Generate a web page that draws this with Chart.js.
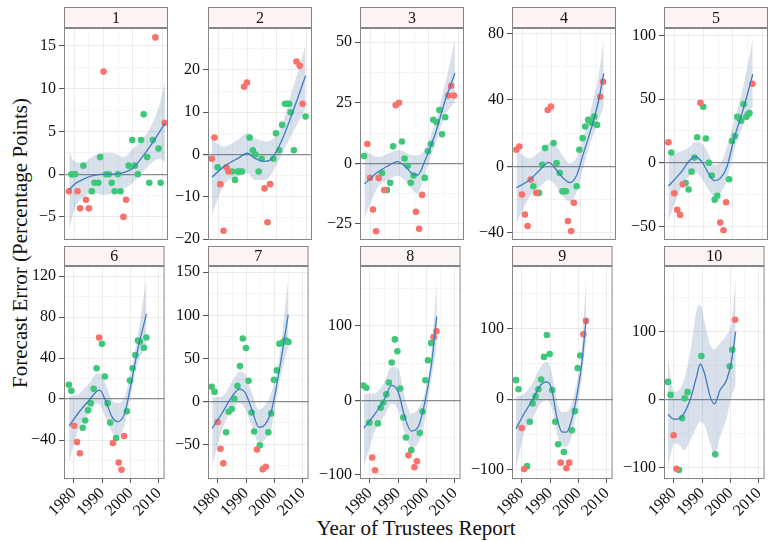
<!DOCTYPE html>
<html>
<head>
<meta charset="utf-8">
<script src="https://cdn.jsdelivr.net/npm/chart.js@4.4.1/dist/chart.umd.min.js"></script>
<style>
  body { margin: 0; background: #fff; width: 778px; height: 542px; position: relative; overflow: hidden; font-family: "Liberation Serif", serif; }
  canvas { position: absolute; }
  .ttl { position: absolute; font-size: 21px; color: #111; white-space: nowrap; }
  #ytitle { left: 20px; top: 243px; transform: translate(-50%, -50%) rotate(-90deg); }
  #xtitle { left: 416px; top: 516px; transform: translateX(-50%); }
</style>
</head>
<body>
<div class="ttl" id="ytitle">Forecast Error (Percentage Points)</div>
<div class="ttl" id="xtitle">Year of Trustees Report</div>
<script>
// forecast horizon (years ahead) shown in each strip
const stripLabels = ['1', '2', '3', '4', '5', '6', '7', '8', '9', '10'];

const xMin = 1976.5, xMax = 2012;
const xTicks = [1980, 1990, 2000, 2010];
const xMinor = [1985, 1995, 2005];

// y limits + breaks per panel (free scales)
const yLimits = [[-7.7, 17.1], [-20.2, 29.9], [-31.6, 55.8], [-44.4, 83.4], [-60.7, 105.8],
                 [-78, 129.8], [-90.2, 157.3], [-105.8, 180.7], [-113.2, 188.9], [-116.1, 195.6]];
const yTicks1 = [-5, 0, 5, 10, 15];
const yTicks2 = [-20, -10, 0, 10, 20];
const yTicks3 = [-25, 0, 25, 50];
const yTicks4 = [-40, 0, 40, 80];
const yTicks5 = [-50, 0, 50, 100];
const yTicks6 = [-40, 0, 40, 80, 120];
const yTicks7 = [-50, 0, 50, 100, 150];
const yTicks8 = [-100, 0, 100];
const yTicks9 = [-100, 0, 100];
const yTicks10 = [-100, 0, 100];

// points: report year, error, red flag (1 = red, 0 = green)
const p1Year = [1978.2,1979,1979.7,1980.3,1981.1,1982,1983.1,1984,1985,1986,1986.9,1988.2,1988.8,1990,1990.9,1991.8,1992.8,1993.8,1994.9,1995.8,1996.8,1997.7,1998.6,1999.8,2000.7,2001.7,2002.8,2003.7,2004.9,2005.6,2006.8,2007.7,2008.8,2009.5,2010.9];
const p1Err = [-2,0,0,0,-2,-4,1,-3,-4,-2,-1,-1,2,12,0,0,-1,-2,0,-2,-5,-3,1,4,1,0,4,7,2,-1,4,16,3,-1,6];
const p1Red = [1,0,0,0,1,1,0,1,1,0,0,0,0,1,0,0,0,0,0,0,1,1,0,0,0,0,0,0,0,0,0,1,0,0,1];

const p2Year = [1977.8,1978.7,1979.8,1980.7,1981.8,1982.8,1983.5,1984.7,1985.7,1986.7,1987.4,1988.1,1988.8,1989.8,1990.7,1991.8,1992.7,1993.8,1994.8,1995.8,1996.8,1997.7,1998.8,1999.7,2000.8,2001.8,2002.8,2003.5,2004.2,2004.7,2005.8,2006.7,2007.8,2008.8,2009.8];
const p2Err = [-1,4,-3,-7,-18,-3,-4,-4,-6,-4,-4,-4,16,17,4,1,0,-4,-1,-8,-16,-7,-1,5,1,7,12,12,12,10,1,22,21,12,9];
const p2Red = [1,1,0,1,1,1,1,0,0,0,0,0,1,1,0,0,0,0,0,1,1,1,0,0,0,0,0,0,0,0,0,1,1,1,0];

const p3Year = [1977.9,1979,1979.9,1980.9,1982,1982.9,1984,1984.8,1985.7,1986.8,1987.8,1988.7,1989.8,1990.8,1991.7,1992.8,1993.8,1994.8,1995.6,1996.7,1997.7,1998.6,1999.7,2000.7,2001.5,2002.6,2003.6,2004.5,2005.6,2006.6,2007.6,2008.6];
const p3Err = [3,8,-6,-19,-28,-6,-4,-11,-11,-8,7,24,25,9,2,-1,-8,-5,-20,-27,-13,-6,5,8,18,17,22,12,19,28,32,28];
const p3Red = [0,1,1,1,1,1,0,1,0,0,0,1,1,0,0,0,0,0,1,1,1,0,0,0,0,0,0,0,0,1,1,1];

const p4Year = [1978,1979,1979.9,1980.9,1981.8,1982.9,1983.8,1984.8,1985.7,1986.8,1987.8,1988.7,1989.8,1990.7,1991.7,1992.8,1993.7,1994.4,1994.9,1995.6,1996.7,1997.6,1998.6,1999.5,2000.6,2001.5,2002.5,2003.2,2003.9,2004.6,2005.5,2006.6,2007.6];
const p4Err = [10,12,-17,-29,-36,-8,-12,-16,-16,1,11,34,36,14,2,-4,-15,-15,-15,-33,-39,-22,-12,10,17,24,28,27,26,30,25,42,51];
const p4Red = [1,1,1,1,1,1,0,1,0,0,0,1,1,0,0,0,0,0,0,1,1,1,0,0,0,0,0,0,0,0,0,1,1];

const p5Year = [1978,1979,1980,1981,1982,1982.9,1983.9,1984.9,1985.9,1986.9,1987.8,1988.9,1989.9,1990.8,1991.8,1992.8,1993.8,1994.7,1995.7,1996.8,1997.7,1998.7,1999.7,2000.7,2001.5,2002.2,2002.8,2003.7,2004.6,2005.2,2005.7,2006.7];
const p5Err = [16,8,-24,-37,-41,-17,-16,-21,-7,4,20,47,44,19,0,-10,-29,-26,-47,-53,-31,-13,17,21,36,35,33,46,36,38,39,62];
const p5Red = [1,0,1,1,1,1,0,0,0,0,0,1,0,0,0,0,0,0,1,1,1,0,0,0,0,0,0,0,0,0,0,1];

const p6Year = [1978.2,1979.1,1980.1,1981.1,1982.1,1983.1,1984,1985,1985.9,1987,1988,1988.9,1989.9,1990.9,1991.9,1992.8,1993.8,1994.9,1995.8,1996.8,1997.7,1998.7,1999.8,2000.7,2001.7,2002.6,2003.3,2004.7,2005.6];
const p6Err = [14,8,-26,-42,-53,-28,-21,-11,-4,10,30,60,54,22,-4,-23,-43,-38,-62,-69,-36,-12,18,30,43,57,56,50,60];
const p6Red = [0,0,1,1,1,0,0,0,0,0,0,1,0,0,0,0,1,0,1,1,1,0,0,0,0,0,0,0,0];

const p7Year = [1977.8,1978.8,1979.9,1980.9,1981.9,1982.9,1983.8,1984.9,1985.8,1986.9,1987.8,1988.8,1989.9,1990.8,1991.9,1992.8,1993.8,1994.8,1995.8,1996.9,1997.8,1998.8,1999.8,2000.8,2001.7,2002.7,2003.6,2004.3,2004.9];
const p7Err = [17,11,-24,-55,-72,-36,-12,-9,3,18,41,73,62,24,-13,-35,-56,-51,-79,-76,-36,-14,25,36,67,68,71,70,69];
const p7Red = [0,0,1,1,1,0,0,0,0,0,0,0,0,0,0,0,1,0,1,1,0,0,0,0,0,0,0,0,0];

const p8Year = [1977.7,1978.7,1979.8,1980.8,1981.8,1982.8,1983.8,1984.7,1985.8,1986.7,1987.7,1988.8,1989.7,1990.7,1991.8,1992.7,1993.6,1994.6,1995.7,1996.6,1997.6,1998.6,1999.6,2000.5,2001.6,2002.5,2003.5];
const p8Err = [20,17,-30,-77,-94,-31,-10,-3,8,24,51,82,66,16,-23,-50,-74,-67,-90,-82,-44,-15,27,54,77,85,93];
const p8Red = [0,0,0,1,1,0,0,0,0,0,0,0,0,0,0,0,1,0,1,1,0,0,0,0,0,1,1];

const p9Year = [1977.9,1978.8,1979.9,1980.8,1981.8,1982.8,1983.8,1984.8,1985.8,1986.8,1987.8,1988.8,1989.8,1990.7,1991.8,1992.8,1993.7,1994.8,1995.7,1996.7,1997.6,1998.7,1999.7,2000.6,2001.7,2002.6];
const p9Err = [27,14,-41,-99,-95,-32,-6,4,14,28,60,91,64,13,-32,-64,-90,-75,-98,-90,-44,-17,44,62,92,111];
const p9Red = [0,0,1,1,0,0,0,0,0,0,0,0,0,0,0,0,1,0,1,1,0,0,0,0,1,1];

const p10Year = [1977.9,1978.8,1979.9,1980.9,1981.8,1982.9,1983.8,1984.8,1989.7,1994.6,1999.7,2000.6,2001.6];
const p10Err = [26,7,-52,-101,-103,-27,2,11,64,-80,49,73,117];
const p10Red = [0,0,1,1,0,0,0,0,0,0,0,0,1];

// loess fit: years, fit, lower, upper
const p1FitYear = [1978.3,1980,1983,1986,1990,1994,1997,2000,2003,2006,2009,2011];
const p1Fit = [-1.8,-1.2,-0.6,-0.2,0,0,0.2,0.7,1.9,3.3,4.9,6.0];
const p1Lo = [-6.6,-4.2,-2.7,-2.2,-2.4,-2.2,-1.7,-1.0,0.1,1.2,1.8,1.4];
const p1Hi = [2.6,1.5,1.3,2.0,2.5,2.4,2.0,3.0,4.0,5.5,8.0,10.8];

const p2FitYear = [1977.8,1982,1986.7,1990,1992.5,1996,1998.3,2001.8,2005.3,2009.8];
const p2Fit = [-5.4,-2.8,-0.9,0.3,-0.9,-1.6,-0.9,3.5,9.8,18.6];
const p2Lo = [-14.3,-7.2,-5.2,-4.4,-6,-6,-4.4,0.3,5,11];
const p2Hi = [3.5,1.9,3.5,5,3.9,3.1,3.5,7,15.3,25.9];

const p3FitYear = [1978,1982.6,1986,1989.3,1991.8,1994.4,1996.2,1998.7,2002.2,2005.6,2008.9];
const p3Fit = [-8.5,-3.6,-1.1,0.7,-1.1,-4.3,-4.8,1.2,12.2,26,37.2];
const p3Lo = [-22.8,-9.8,-7,-5,-7,-11,-12.5,-4.3,8.1,19.8,25.3];
const p3Hi = [5.4,2.6,4,5.4,4.7,3.3,3.3,6,17,32.8,51];

const p4FitYear = [1978,1982.5,1986,1989,1991.7,1994,1996.3,1998.6,2000.9,2004.4,2006.1,2007.8];
const p4Fit = [-12.9,-8.2,-2.2,2.4,-2.2,-7.2,-9.8,-5.2,7.8,28,40,56];
const p4Lo = [-34.4,-18.3,-12.3,-8.2,-12.3,-18.3,-21.3,-15.3,-0.2,19.9,28,36];
const p4Hi = [9.8,4.8,8.8,13.9,11.9,5.8,1.8,5.8,17.9,41,55,77];

const p5FitYear = [1978,1982,1985.4,1987.1,1989.4,1991.7,1993.7,1995.7,1998,2000.3,2003.8,2006.8];
const p5Fit = [-18.3,-8.4,2.1,4.7,0.8,-8.4,-14.1,-12.3,-3.1,17.8,44,69.6];
const p5Lo = [-46.3,-21.5,-9.7,-7.1,-12.3,-21.5,-26.7,-24,-13.6,8.6,30.9,44];
const p5Hi = [4.7,8.6,12.6,16.5,15.2,7.3,-1.8,-0.5,12.6,30.9,62.3,97.6];

const p6FitYear = [1978.3,1981.9,1985.4,1988.2,1989.1,1991.1,1993.4,1995.4,1997.9,2000.2,2002.5,2005.6];
const p6Fit = [-26.3,-12.4,-1,7.8,8.8,-1,-17.2,-22.1,-14,15.3,47.8,83];
const p6Lo = [-61.1,-27,-14,-4.2,-5.9,-17.2,-32,-36.7,-25.4,5.5,34.8,51];
const p6Hi = [2.3,5.5,15.3,25,25,15.3,-1,-4.2,2.3,26.7,60.8,117.7];

const p7FitYear = [1978,1981.5,1985,1987.6,1989.7,1992,1994.5,1996.6,1999,2001.3,2004.8];
const p7Fit = [-31.3,-13.5,5.8,14.3,9.7,-9.7,-30.2,-27,-9.7,29,100.5];
const p7Lo = [-75.4,-32.9,-9.7,-1.9,-9.7,-29,-48.3,-44.5,-29,15.5,63.8];
const p7Hi = [5,5.8,23.2,34.8,30.9,9.7,-9.7,-3.9,11.6,42.5,141.9];

const p8FitYear = [1977.9,1981.4,1984.8,1987.7,1990,1992.3,1994.6,1997,1999.3,2001.6,2003.6];
const p8Fit = [-37.2,-20.2,-0.9,20.2,11.2,-22.4,-41.3,-35.9,-4.5,44.8,113];
const p8Lo = [-89.7,-44.8,-22.4,-4.5,-13.5,-44.8,-62.8,-58.3,-29.1,26.9,71.7];
const p8Hi = [9,9,22.4,44.8,42.6,4.5,-17.9,-11.2,9,60.5,163.7];

const p9FitYear = [1977.9,1980.8,1983.7,1986.6,1988.9,1990.6,1992.3,1994.1,1995.8,1997.5,1999.3,2001,2002.7];
const p9Fit = [-42,-20.3,-1.4,19.9,24.6,12.8,-25,-46.3,-46.8,-29.8,3.3,45.9,114.4];
const p9Lo = [-98.3,-48.7,-27.4,-6.1,-1.4,-13.2,-48.7,-65.2,-67.6,-53.4,-15.6,27,83.7];
const p9Hi = [3.3,8,22.2,45.9,53,36.4,-1.4,-18,-18,-6.1,22.2,64.8,171];

const p10FitYear = [1977.9,1980.1,1981.8,1983.6,1985.9,1988,1989.3,1990.8,1992.8,1994.3,1996.3,1998.6,2000.3,2001.8];
const p10Fit = [-21.5,-28.8,-27.8,-20,2,33.7,52.2,38.5,4.4,-6.3,14.1,28.8,55.6,99.5];
const p10Lo = [-100.5,-63.9,-66.3,-73.7,-59,-39.5,-32.2,-37.1,-63.9,-83.4,-54.1,-27.3,4.4,21.5];
const p10Hi = [60.5,11.7,14.1,28.8,72.7,131.2,138.5,114.1,80,73.7,82.4,94.6,111.7,175];

const years = [p1Year, p2Year, p3Year, p4Year, p5Year, p6Year, p7Year, p8Year, p9Year, p10Year];
const errs = [p1Err, p2Err, p3Err, p4Err, p5Err, p6Err, p7Err, p8Err, p9Err, p10Err];
const reds = [p1Red, p2Red, p3Red, p4Red, p5Red, p6Red, p7Red, p8Red, p9Red, p10Red];
const fitYears = [p1FitYear, p2FitYear, p3FitYear, p4FitYear, p5FitYear, p6FitYear, p7FitYear, p8FitYear, p9FitYear, p10FitYear];
const fits = [p1Fit, p2Fit, p3Fit, p4Fit, p5Fit, p6Fit, p7Fit, p8Fit, p9Fit, p10Fit];
const los = [p1Lo, p2Lo, p3Lo, p4Lo, p5Lo, p6Lo, p7Lo, p8Lo, p9Lo, p10Lo];
const his = [p1Hi, p2Hi, p3Hi, p4Hi, p5Hi, p6Hi, p7Hi, p8Hi, p9Hi, p10Hi];
const yTicks = [yTicks1, yTicks2, yTicks3, yTicks4, yTicks5, yTicks6, yTicks7, yTicks8, yTicks9, yTicks10];

// layout
const panelLeft = [64, 208, 360, 512, 664];
const plotW = 104;
const stripTop = [7, 246];
const plotTop = [28, 266];
const plotBottom = [240, 479];
const axisW = 50;

const RED = '#F8716B', GREEN = '#3CC878', BAND = 'rgba(72, 110, 160, 0.21)', LINE = '#3D7CBF';
const FONT = '"Liberation Serif", serif';

Chart.defaults.font.family = FONT;

const frame = {
  id: 'frame',
  afterDraw(chart, args, opts) {
    const { ctx, chartArea: a } = chart;
    const h = opts.stripH;
    ctx.save();
    ctx.fillStyle = '#FDF4F4';
    ctx.fillRect(a.left, a.top - h, a.right - a.left, h);
    ctx.strokeStyle = '#858585';
    ctx.lineWidth = 1;
    ctx.strokeRect(a.left + 0.5, a.top - h + 0.5, a.right - a.left - 1, h - 1);
    ctx.strokeRect(a.left + 0.5, a.top + 0.5, a.right - a.left - 1, a.bottom - a.top - 1);
    ctx.fillStyle = '#111';
    ctx.font = '16px ' + FONT;
    ctx.textAlign = 'center';
    ctx.textBaseline = 'middle';
    ctx.fillText(opts.label, (a.left + a.right) / 2, a.top - h / 2 + 1);
    ctx.restore();
  }
};

function minorOf(t, lo, hi) {
  const step = t[1] - t[0];
  const out = [];
  for (let v = t[0] - step / 2; v <= hi; v += step) if (v >= lo) out.push(v);
  return out;
}

function makePanel(i) {
  const r = i < 5 ? 0 : 1, c = i % 5;
  const left = panelLeft[c] - axisW;
  const top = stripTop[r] - 2;
  const xh = r ? 54 : 0;
  const padB = r ? 0 : 14;
  const w = axisW + plotW + 6;
  const h = plotBottom[r] - top + xh + padB;
  const cv = document.createElement('canvas');
  cv.width = w; cv.height = h;
  cv.style.left = left + 'px'; cv.style.top = top + 'px';
  cv.style.width = w + 'px'; cv.style.height = h + 'px';
  document.body.appendChild(cv);

  const pts = years[i].map((x, k) => ({ x, y: errs[i][k] }));
  const redPts = pts.filter((p, k) => reds[i][k]);
  const greenPts = pts.filter((p, k) => !reds[i][k]);
  const xy = arr => fitYears[i].map((x, k) => ({ x, y: arr[k] }));
  const [yLo, yHi] = yLimits[i];

  new Chart(cv, {
    type: 'line',
    data: {
      datasets: [
        { data: xy(los[i]), borderColor: 'transparent', borderWidth: 0, pointRadius: 0, fill: false, cubicInterpolationMode: 'monotone', order: 5 },
        { data: xy(his[i]), borderColor: 'transparent', borderWidth: 0, pointRadius: 0, fill: '-1', backgroundColor: BAND, cubicInterpolationMode: 'monotone', order: 5 },
        { data: redPts, showLine: false, pointRadius: 3.3, pointBorderWidth: 0, pointBackgroundColor: RED, order: 3 },
        { data: greenPts, showLine: false, pointRadius: 3.3, pointBorderWidth: 0, pointBackgroundColor: GREEN, order: 3 },
        { data: xy(fits[i]), borderColor: LINE, borderWidth: 1.3, pointRadius: 0, fill: false, cubicInterpolationMode: 'monotone', order: 1 }
      ]
    },
    options: {
      responsive: false,
      animation: false,
      events: [],
      layout: { padding: { left: 0, right: 6, top: plotTop[r] - top, bottom: padB } },
      plugins: {
        legend: { display: false },
        tooltip: { enabled: false },
        frame: { label: stripLabels[i], stripH: plotTop[r] - stripTop[r] }
      },
      scales: {
        xm: {
          type: 'linear', position: 'bottom', min: xMin, max: xMax, bounds: 'data',
          afterBuildTicks: s => { s.ticks = xMinor.map(v => ({ value: v })); },
          afterFit: s => { s.height = 0; },
          grid: { color: '#F5F5F5', drawTicks: false },
          ticks: { display: false },
          border: { display: false }
        },
        ym: {
          type: 'linear', position: 'left', min: yLo, max: yHi, bounds: 'data',
          afterBuildTicks: s => { s.ticks = minorOf(yTicks[i], yLo, yHi).map(v => ({ value: v })); },
          afterFit: s => { s.width = 0; },
          grid: { color: '#F5F5F5', drawTicks: false },
          ticks: { display: false },
          border: { display: false }
        },
        x: {
          type: 'linear', position: 'bottom', min: xMin, max: xMax, bounds: 'data',
          afterBuildTicks: s => { s.ticks = xTicks.map(v => ({ value: v })); },
          afterFit: s => { s.height = xh; },
          grid: { color: '#EBEBEB', drawTicks: r === 1, tickLength: 4, tickColor: '#555' },
          border: { display: false },
          ticks: {
            display: r === 1, autoSkip: false, minRotation: 45, maxRotation: 45, padding: 1,
            color: '#111', font: { size: 16, family: FONT },
            callback: v => String(v)
          }
        },
        y: {
          type: 'linear', position: 'left', min: yLo, max: yHi, bounds: 'data',
          afterBuildTicks: s => { s.ticks = yTicks[i].map(v => ({ value: v })); },
          afterFit: s => { s.width = axisW; },
          grid: {
            color: ctx => (ctx.tick && ctx.tick.value === 0 ? '#8C8C8C' : '#EBEBEB'),
            lineWidth: ctx => (ctx.tick && ctx.tick.value === 0 ? 1.2 : 1),
            tickLength: 5, tickColor: '#555'
          },
          border: { display: false },
          ticks: {
            padding: 3, color: '#111', font: { size: 16, family: FONT },
            callback: v => String(v).replace('-', '\u2212')
          }
        }
      }
    },
    plugins: [frame]
  });
}

for (let i = 0; i < 10; i++) makePanel(i);
</script>
</body>
</html>
